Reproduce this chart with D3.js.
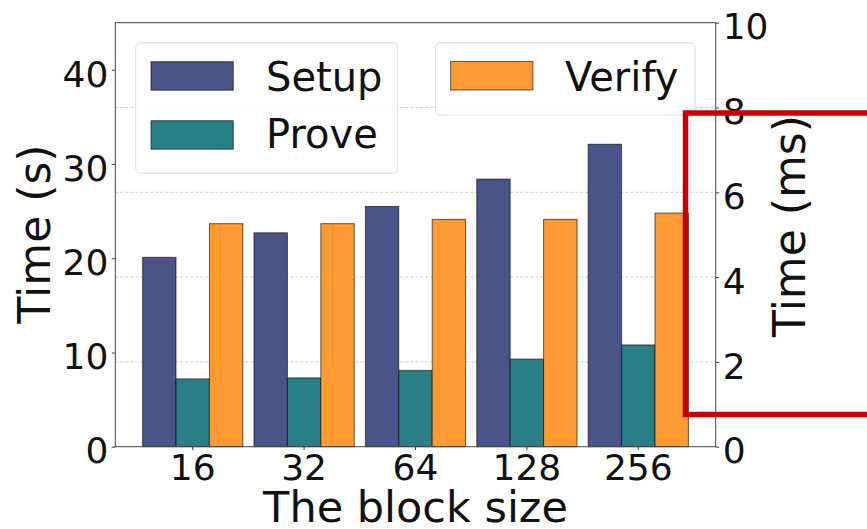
<!DOCTYPE html>
<html><head><meta charset="utf-8">
<script src="https://cdn.jsdelivr.net/npm/d3@7"></script>
<style>body{margin:0;background:#fff} text{font-family:"DejaVu Sans",sans-serif;fill:#111}</style>
</head><body><svg id="c" width="867" height="529"></svg>
<script>
const categories = ["16","32","64","128","256"];
const seriesNames = ["Setup","Prove","Verify"];
const setupS = [20.1, 22.7, 25.5, 28.4, 32.1];
const proveS = [7.2, 7.3, 8.1, 9.3, 10.8];
const verifyMs = [5.26, 5.26, 5.36, 5.36, 5.51];
const leftTicks = [0, 10, 20, 30, 40];
const rightTicks = [0, 2, 4, 6, 8, 10];
const colors = {Setup:"#4b5488", Prove:"#2a7f87", Verify:"#fd9a34"};

const L = 115.3, R = 715.7, T = 22.7, B = 446.7;
const svg = d3.select("#c");
svg.append("rect").attr("width",867).attr("height",529).attr("fill","#fff");

const x = d3.scaleBand().domain(categories).range([L,R]).paddingInner(0.1).paddingOuter(0.245);
const xs = d3.scaleBand().domain(seriesNames).range([0,x.bandwidth()]);
const yL = d3.scaleLinear().domain([0,45]).range([B,T]);
const yR = d3.scaleLinear().domain([0,10]).range([B,T]);

// grid (right axis)
svg.append("g").selectAll("line").data(rightTicks.filter(t=>t>0 && t<10)).join("line")
  .attr("x1",L).attr("x2",R).attr("y1",d=>yR(d)).attr("y2",d=>yR(d))
  .attr("stroke","#c8c8c8").attr("stroke-width",0.9).attr("stroke-dasharray","3,2");

// bars
const rows = categories.map((c,i)=>({c, vals:[
  {s:"Setup", v:setupS[i], y:yL},
  {s:"Prove", v:proveS[i], y:yL},
  {s:"Verify", v:verifyMs[i], y:yR}]}));
const g = svg.append("g").selectAll("g").data(rows).join("g")
  .attr("transform",d=>`translate(${x(d.c)},0)`);
g.selectAll("rect").data(d=>d.vals).join("rect")
  .attr("x",d=>xs(d.s)).attr("width",xs.bandwidth())
  .attr("y",d=>d.y(d.v)).attr("height",d=>B-d.y(d.v))
  .attr("fill",d=>colors[d.s]).attr("stroke","#000").attr("stroke-opacity",0.6).attr("stroke-width",1);

// frame
svg.append("rect").attr("x",L).attr("y",T).attr("width",R-L).attr("height",B-T)
  .attr("fill","none").attr("stroke","#444").attr("stroke-width",1);

// axes
const ax = svg.append("g").attr("transform",`translate(0,${B})`)
  .call(d3.axisBottom(x).tickSize(3.5).tickPadding(3));
ax.select(".domain").remove();
ax.selectAll("text").attr("y",33.5).attr("dy",0).style("font-size","36px").style("font-family","DejaVu Sans");
const al = svg.append("g").attr("transform",`translate(${L},0)`)
  .call(d3.axisLeft(yL).tickValues(leftTicks).tickSize(3.5).tickPadding(3.5));
al.select(".domain").remove();
al.selectAll("text").attr("dy","0.45em").style("font-size","36px").style("font-family","DejaVu Sans");
const ar = svg.append("g").attr("transform",`translate(${R},0)`)
  .call(d3.axisRight(yR).tickValues(rightTicks).tickSize(3.5).tickPadding(3.5));
ar.select(".domain").remove();
ar.selectAll("text").attr("dy","0.45em").style("font-size","36px").style("font-family","DejaVu Sans");
svg.selectAll(".tick line").attr("stroke","#444");

// axis labels
svg.append("text").attr("x",(L+R)/2).attr("y",522).attr("text-anchor","middle")
  .style("font-size","43px").text("The block size");
svg.append("text").attr("transform","translate(50,234) rotate(-90)").attr("text-anchor","middle")
  .style("font-size","44px").text("Time (s)");
svg.append("text").attr("transform","translate(805,226) rotate(-90)").attr("text-anchor","middle")
  .style("font-size","44px").text("Time (ms)");

// legends
function legendBox(x0,y0,w,h){
  svg.append("rect").attr("x",x0).attr("y",y0).attr("width",w).attr("height",h).attr("rx",5)
    .attr("fill","#fff").attr("fill-opacity",0.8).attr("stroke","#ddd").attr("stroke-width",1);
}
legendBox(135.7,42.7,262,130.6);
legendBox(435.3,42.7,259.7,72.3);
const leg = [
  {s:"Setup", px:151, py:61.7, tx:266, ty:90.7},
  {s:"Prove", px:151, py:120.7, tx:266, ty:148.3},
  {s:"Verify", px:450.6, py:61.5, tx:565, ty:90.7}];
leg.forEach(d=>{
  svg.append("rect").attr("x",d.px).attr("y",d.py).attr("width",82.3).attr("height",28.5)
    .attr("fill",colors[d.s]).attr("stroke","#000").attr("stroke-opacity",0.6).attr("stroke-width",1);
  svg.append("text").attr("x",d.tx).attr("y",d.ty).style("font-size","40px").text(d.s);
});

// red highlight box
svg.append("rect").attr("x",685.5).attr("y",113).attr("width",300).attr("height",301.5)
  .attr("fill","none").attr("stroke","#c80000").attr("stroke-width",5.5);
</script></body></html>
